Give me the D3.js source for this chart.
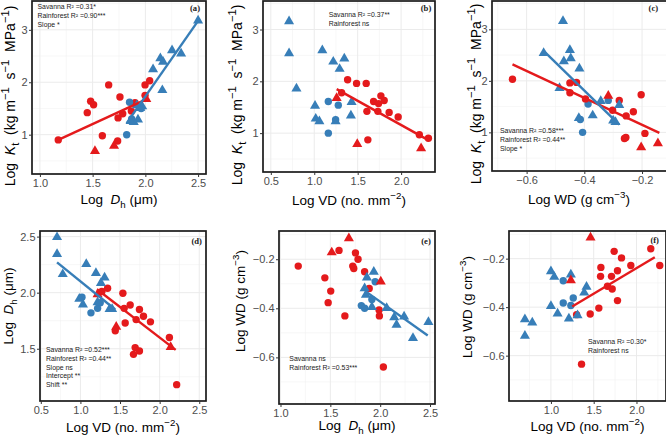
<!DOCTYPE html>
<html><head><meta charset="utf-8">
<script src="https://cdn.jsdelivr.net/npm/d3@7/dist/d3.min.js"></script>
<style>body{margin:0;background:#fff}svg{display:block}</style>
</head><body>
<svg id="chart" width="666" height="436"></svg>
<script>
// ---------- DATA (S = savanna, R = rainforest; c = circle, t = triangle) ----------
const ptsA = [ // x: Log Dh, y: Log Kt
  [1.174,0.90,"S","c"],[1.449,1.42,"S","c"],[1.481,1.64,"S","c"],[1.509,1.57,"S","c"],[1.592,0.98,"S","c"],
  [1.652,1.95,"S","c"],[1.741,1.32,"S","c"],[1.759,1.72,"S","c"],[1.785,1.40,"S","c"],[1.737,0.88,"S","c"],
  [1.867,1.45,"S","c"],[1.902,1.61,"S","c"],[1.997,1.95,"S","c"],[2.041,2.03,"S","c"],[1.997,1.75,"S","c"],
  [1.522,0.70,"S","t"],[1.703,0.80,"S","t"],[2.009,1.69,"S","t"],
  [2.50,3.19,"R","t"],[2.253,2.62,"R","t"],[2.339,2.56,"R","t"],[2.142,2.47,"R","t"],[2.168,2.40,"R","t"],
  [2.073,2.26,"R","t"],[2.161,1.86,"R","t"],[1.86,1.27,"R","t"],[1.89,1.25,"R","t"],[1.93,1.30,"R","t"],
  [1.95,1.52,"R","t"],[1.97,1.55,"R","t"],[1.92,1.57,"R","t"],
  [1.823,1.00,"R","c"],[1.85,1.62,"R","c"],[1.87,1.30,"R","c"],[1.96,1.50,"R","c"]
];
const ptsB = [ // x: Log VD, y: Log Kt
  [0.71,3.17,"R","t"],[0.71,2.55,"R","t"],[0.795,1.87,"R","t"],[1.093,2.61,"R","t"],[1.219,2.39,"R","t"],
  [1.346,2.45,"R","t"],[1.292,2.25,"R","t"],[1.009,1.54,"R","t"],[1.017,1.29,"R","t"],[1.059,1.24,"R","t"],
  [1.246,1.24,"R","t"],[1.43,1.61,"R","t"],[1.422,1.35,"R","t"],
  [1.162,1.61,"R","c"],[1.277,1.54,"R","c"],[1.246,1.26,"R","c"],[1.162,1.00,"R","c"],
  [1.258,1.69,"S","t"],[1.495,0.80,"S","t"],[2.23,0.72,"S","t"],
  [1.384,2.03,"S","c"],[1.487,1.96,"S","c"],[1.598,1.96,"S","c"],[1.315,1.78,"S","c"],[1.606,1.42,"S","c"],
  [1.683,1.61,"S","c"],[1.74,1.57,"S","c"],[1.767,1.72,"S","c"],[1.805,1.63,"S","c"],[1.732,1.42,"S","c"],
  [1.862,1.40,"S","c"],[1.966,1.31,"S","c"],[1.617,0.87,"S","c"],[2.21,0.97,"S","c"],[2.314,0.90,"S","c"]
];
const ptsC = [ // x: Log WD, y: Log Kt
  [-0.474,3.17,"R","t"],[-0.541,2.55,"R","t"],[-0.471,2.39,"R","t"],[-0.450,2.61,"R","t"],[-0.447,2.45,"R","t"],
  [-0.417,2.25,"R","t"],[-0.486,1.87,"R","t"],[-0.419,1.29,"R","t"],[-0.371,1.34,"R","t"],[-0.343,1.62,"R","t"],
  [-0.279,1.54,"R","t"],[-0.300,1.24,"R","t"],[-0.292,1.21,"R","t"],
  [-0.387,1.55,"R","c"],[-0.317,1.62,"R","c"],[-0.406,1.00,"R","c"],[-0.414,1.25,"R","c"],
  [-0.317,1.72,"S","t"],[-0.203,0.72,"S","t"],[-0.145,0.80,"S","t"],
  [-0.649,2.03,"S","c"],[-0.450,1.96,"S","c"],[-0.427,1.97,"S","c"],[-0.450,1.77,"S","c"],[-0.396,1.65,"S","c"],
  [-0.279,1.62,"S","c"],[-0.302,1.43,"S","c"],[-0.255,1.32,"S","c"],[-0.230,1.40,"S","c"],[-0.203,1.73,"S","c"],
  [-0.261,0.88,"S","c"],[-0.256,0.90,"S","c"],[-0.19,0.98,"S","c"]
];
const ptsD = [ // x: Log VD, y: Log Dh
  [0.705,2.50,"R","t"],[0.705,2.35,"R","t"],[0.777,2.17,"R","t"],[1.074,2.26,"R","t"],[1.196,2.18,"R","t"],
  [1.305,2.14,"R","t"],[1.259,2.09,"R","t"],[0.986,1.95,"R","t"],[1.032,1.90,"R","t"],[1.368,1.86,"R","t"],
  [1.40,1.86,"R","t"],[1.217,1.92,"R","t"],
  [1.02,1.96,"R","c"],[1.133,1.82,"R","c"],[1.217,1.86,"R","c"],[1.25,1.91,"R","c"],
  [1.217,1.99,"S","t"],[1.452,1.70,"S","t"],[2.139,1.52,"S","t"],
  [1.271,2.01,"S","c"],[1.343,2.04,"S","c"],[1.536,1.995,"S","c"],[1.552,1.86,"S","c"],[1.628,1.89,"S","c"],
  [1.745,1.85,"S","c"],[1.796,1.79,"S","c"],[1.703,1.76,"S","c"],[1.565,1.73,"S","c"],[1.884,1.74,"S","c"],
  [1.44,1.66,"S","c"],[1.67,1.45,"S","c"],[1.691,1.51,"S","c"],[1.745,1.48,"S","c"],[2.123,1.60,"S","c"],
  [2.215,1.18,"S","c"]
];
const ptsE = [ // x: Log Dh, y: Log WD
  [1.686,-0.112,"S","t"],[1.514,-0.170,"S","t"],[2.006,-0.289,"S","t"],
  [1.178,-0.228,"S","c"],[1.587,-0.164,"S","c"],[1.752,-0.174,"S","c"],[1.778,-0.20,"S","c"],[1.725,-0.228,"S","c"],
  [1.735,-0.238,"S","c"],[1.445,-0.276,"S","c"],[1.504,-0.330,"S","c"],[1.478,-0.377,"S","c"],[1.646,-0.431,"S","c"],
  [1.844,-0.251,"S","c"],[1.89,-0.319,"S","c"],[1.989,-0.407,"S","c"],[1.992,-0.431,"S","c"],[2.032,-0.639,"S","c"],
  [1.867,-0.272,"R","t"],[1.936,-0.249,"R","t"],[1.844,-0.316,"R","t"],[1.857,-0.343,"R","t"],[1.917,-0.393,"R","t"],
  [2.065,-0.397,"R","t"],[2.141,-0.434,"R","t"],[2.164,-0.465,"R","t"],[2.24,-0.431,"R","t"],[2.329,-0.519,"R","t"],
  [2.484,-0.454,"R","t"],
  [1.811,-0.389,"R","c"],[1.844,-0.40,"R","c"],[1.917,-0.364,"R","c"],[1.95,-0.292,"R","c"]
];
const ptsF = [ // x: Log VD, y: Log WD
  [1.0,-0.250,"R","t"],[1.039,-0.273,"R","t"],[1.233,-0.263,"R","t"],[1.0,-0.393,"R","t"],[1.078,-0.424,"R","t"],
  [1.21,-0.445,"R","t"],[1.311,-0.431,"R","t"],[1.416,-0.314,"R","t"],[1.389,-0.338,"R","t"],[0.696,-0.448,"R","t"],
  [0.696,-0.516,"R","t"],[0.782,-0.461,"R","t"],
  [1.144,-0.291,"R","c"],[1.261,-0.362,"R","c"],[1.144,-0.383,"R","c"],[1.233,-0.393,"R","c"],
  [1.463,-0.111,"S","t"],[1.233,-0.287,"S","t"],
  [2.167,-0.159,"S","c"],[2.272,-0.228,"S","c"],[1.739,-0.170,"S","c"],[1.825,-0.197,"S","c"],[1.584,-0.236,"S","c"],
  [1.580,-0.273,"S","c"],[1.708,-0.273,"S","c"],[1.778,-0.250,"S","c"],[1.934,-0.228,"S","c"],[1.661,-0.314,"S","c"],
  [1.716,-0.325,"S","c"],[1.778,-0.373,"S","c"],[1.560,-0.404,"S","c"],[1.459,-0.428,"S","c"],[1.30,-0.431,"S","c"],
  [1.358,-0.635,"S","c"]
];
// fitted regression segments: [group, x1, y1, x2, y2]
const fitA = [["S",1.174,0.90,2.003,1.67],["R",1.823,1.22,2.50,3.17]];
const fitB = [["S",1.258,1.85,2.318,0.86]];
const fitC = [["S",-0.649,2.32,-0.140,0.99],["R",-0.541,2.58,-0.279,1.15]];
const fitD = [["R",0.705,2.27,1.439,1.85],["S",1.209,2.03,2.202,1.49]];
const fitE = [["R",1.851,-0.330,2.477,-0.511]];
const fitF = [["S",1.249,-0.397,2.214,-0.194]];
// statistics text
const statsA = ["Savanna R\u00B2 =0.31*","Rainforest R\u00B2 =0.90***","Slope *"];
const statsB = ["Savanna R\u00B2 =0.37**","Rainforest ns"];
const statsC = ["Savanna R\u00B2 =0.58***","Rainforest R\u00B2 =0.44**","Slope *"];
const statsD = ["Savanna R\u00B2 =0.52***","Rainforest R\u00B2 =0.44**","Slope ns","Intercept **","Shift **"];
const statsE = ["Savanna ns","Rainforest R\u00B2 =0.53***"];
const statsF = ["Savanna R\u00B2 =0.30*","Rainforest ns"];
// ticks
const ticksDhA = [1.0,1.5,2.0,2.5];
const ticksVDB = [0.5,1.0,1.5,2.0];
const ticksWDx = [-0.6,-0.4,-0.2];
const ticksVDD = [0.5,1.0,1.5,2.0,2.5];
const ticksVDF = [1.0,1.5,2.0];
const ticksKt = [1,2,3];
const ticksDhY = [1.5,2.0,2.5];
const ticksWDy = [-0.6,-0.4,-0.2];

// ---------- STYLE / LAYOUT ----------
const colors = {S:"#E41A1C", R:"#377EB8"};
const NB = "\u00A0";
const T = {
  Kt: [["Log"+NB+NB,"n"],["K","i"],["t","sub"],[NB+NB+"(kg"+NB+"m","n"],["\u22121","sup"],[NB+NB+"s","n"],["\u22121","sup"],[NB+NB+"MPa","n"],["\u22121","sup"],[")","n"]],
  Dh: [["Log"+NB+NB,"n"],["D","i"],["h","sub"],[NB+"(\u03BCm)","n"]],
  VD: [["Log VD (no."+NB+"mm","n"],["\u22122","sup"],[")","n"]],
  WD: [["Log WD (g"+NB+"cm","n"],["\u22123","sup"],[")","n"]]
};
const fmt1 = d => d3.format(".1f")(d).replace("-","\u2212");
const fmt0 = d => d3.format("d")(d);

const panels = [
  {lab:"(a)", pts:ptsA, fit:fitA, stats:statsA, box:[32,1,206,174], xd:[0.925,2.575], yd:[0.25,3.55],
   xt:ticksDhA, yt:ticksKt, xf:fmt1, yf:fmt0, xT:T.Dh, yT:T.Kt, xTy:204, yTx:10, yTy:96, sp:[37.5,7], lp:[195,7.5]},
  {lab:"(b)", pts:ptsB, fit:fitB, stats:statsB, box:[263,1,435,172], xd:[0.41,2.39], yd:[0.25,3.55],
   xt:ticksVDB, yt:ticksKt, xf:fmt1, yf:fmt0, xT:T.VD, yT:T.Kt, xTy:205, yTx:237, yTy:95, sp:[328.7,15], lp:[426,8.3]},
  {lab:"(c)", pts:ptsC, fit:fitC, stats:statsC, box:[492,1,668,171], xd:[-0.72,-0.11], yd:[0.25,3.55],
   xt:ticksWDx, yt:ticksKt, xf:fmt1, yf:fmt0, xT:T.WD, yT:T.Kt, xTy:204, yTx:476, yTy:94, sp:[500,130.7], lp:[653.3,8.3]},
  {lab:"(d)", pts:ptsD, fit:fitD, stats:statsD, box:[40,231,206,401], xd:[0.49,2.585], yd:[1.034,2.55],
   xt:ticksVDD, yt:ticksDhY, xf:fmt1, yf:fmt1, xT:T.VD, yT:T.Dh, xTy:432, yTx:8, yTy:306, sp:[46,349.7], lp:[196.7,240.7]},
  {lab:"(e)", pts:ptsE, fit:fitE, stats:statsE, box:[279,231,435,404], xd:[0.985,2.55], yd:[-0.79,-0.085],
   xt:ticksDhA, yt:ticksWDy, xf:fmt1, yf:fmt1, xT:T.Dh, yT:T.WD, xTy:430, yTx:240, yTy:301, sp:[289.3,358.7], lp:[426,240.7]},
  {lab:"(f)", pts:ptsF, fit:fitF, stats:statsF, box:[509,231,666,401], xd:[0.51,2.345], yd:[-0.787,-0.086],
   xt:ticksVDF, yt:ticksWDy, xf:fmt1, yf:fmt1, xT:T.VD, yT:T.WD, xTy:431, yTx:467, yTy:307, sp:[588,342], lp:[654.7,239.7]}
];

const svg = d3.select("#chart");
svg.append("rect").attr("width",666).attr("height",436).attr("fill","#fff");
const FONT = "'Liberation Sans', Arial, Helvetica, sans-serif";

function rich(sel, segs, size, supScale){
  let shift = 0;
  segs.forEach(([t,s])=>{
    const target = s==="sup" ? -0.42*size : s==="sub" ? 0.28*size : 0;
    const ts = sel.append("tspan").attr("dy", target - shift).text(t);
    shift = target;
    if (s==="sup"||s==="sub") ts.attr("font-size", size*supScale);
    if (s==="i") ts.attr("font-style","italic");
  });
}
function minors(ticks, dom){
  const step = ticks[1]-ticks[0];
  const out = [];
  for (let i=-1;i<ticks.length;i++){ const v = ticks[0]+step*(i+0.5); if (v>Math.min(...dom) && v<Math.max(...dom)) out.push(v); }
  return out;
}

panels.forEach((p,i)=>{
  const [L,Tp,R,B] = p.box;
  const x = d3.scaleLinear().domain(p.xd).range([L,R]);
  const y = d3.scaleLinear().domain(p.yd).range([B,Tp]);
  const g = svg.append("g");
  const cid = "clip"+i;
  svg.append("clipPath").attr("id",cid).append("rect").attr("x",L).attr("y",Tp).attr("width",R-L).attr("height",B-Tp);
  const pg = g.append("g").attr("clip-path",`url(#${cid})`);
  // grid
  pg.selectAll(".mx").data(minors(p.xt,p.xd)).join("line").attr("x1",d=>x(d)).attr("x2",d=>x(d)).attr("y1",Tp).attr("y2",B).attr("stroke","#F2F2F2").attr("stroke-width",0.6);
  pg.selectAll(".my").data(minors(p.yt,p.yd)).join("line").attr("y1",d=>y(d)).attr("y2",d=>y(d)).attr("x1",L).attr("x2",R).attr("stroke","#F2F2F2").attr("stroke-width",0.6);
  pg.selectAll(".gx").data(p.xt).join("line").attr("x1",d=>x(d)).attr("x2",d=>x(d)).attr("y1",Tp).attr("y2",B).attr("stroke","#EBEBEB").attr("stroke-width",1);
  pg.selectAll(".gy").data(p.yt).join("line").attr("y1",d=>y(d)).attr("y2",d=>y(d)).attr("x1",L).attr("x2",R).attr("stroke","#EBEBEB").attr("stroke-width",1);
  // points
  const tri = d3.symbol().type(d3.symbolTriangle).size(44)();
  pg.selectAll(".c").data(p.pts.filter(d=>d[3]==="c")).join("circle")
    .attr("cx",d=>x(d[0])).attr("cy",d=>y(d[1])).attr("r",3.7).attr("fill",d=>colors[d[2]]);
  pg.selectAll(".t").data(p.pts.filter(d=>d[3]==="t")).join("path")
    .attr("d",tri).attr("transform",d=>`translate(${x(d[0])},${y(d[1])+0.6})`).attr("fill",d=>colors[d[2]]);
  // fits
  pg.selectAll(".f").data(p.fit).join("line")
    .attr("x1",d=>x(d[1])).attr("y1",d=>y(d[2])).attr("x2",d=>x(d[3])).attr("y2",d=>y(d[4]))
    .attr("stroke",d=>colors[d[0]]).attr("stroke-width",2.4).attr("stroke-linecap","butt");
  // stats
  g.append("g").selectAll("text").data(p.stats).join("text")
    .attr("x",p.sp[0]).attr("y",(d,k)=>p.sp[1]+k*8.7).attr("dy","0.35em")
    .attr("font-family",FONT).attr("font-size",6.9).attr("fill","#1a1a1a").text(d=>d);
  g.append("text").attr("x",p.lp[0]).attr("y",p.lp[1]).attr("dy","0.35em").attr("text-anchor","middle")
    .attr("font-family","'Liberation Serif', 'Times New Roman', serif").attr("font-weight","bold").attr("font-size",8.6).attr("fill","#1a1a1a").text(p.lab);
  // border
  g.append("rect").attr("x",L).attr("y",Tp).attr("width",R-L).attr("height",B-Tp).attr("fill","none").attr("stroke","#1a1a1a").attr("stroke-width",1.7);
  // axes
  const ax = g.append("g").attr("transform",`translate(0,${B})`).call(d3.axisBottom(x).tickValues(p.xt).tickFormat(p.xf).tickSize(3).tickPadding(2.5));
  const ay = g.append("g").attr("transform",`translate(${L},0)`).call(d3.axisLeft(y).tickValues(p.yt).tickFormat(p.yf).tickSize(3).tickPadding(1.5));
  [ax,ay].forEach(a=>{
    a.select(".domain").remove();
    a.selectAll("line").attr("stroke","#333").attr("stroke-width",1);
    a.selectAll("text").attr("font-family",FONT).attr("font-size",11).attr("fill","#4D4D4D");
  });
  // titles
  const xt = g.append("text").attr("x",(L+Math.min(R,666))/2).attr("y",p.xTy).attr("text-anchor","middle")
    .attr("font-family",FONT).attr("font-size",13.5).attr("fill","#000");
  rich(xt, p.xT, 13.5, 0.72);
  const ysz = p.yT===T.Kt ? 14 : 13.5;
  const yt = g.append("text").attr("transform",`translate(${p.yTx+5},${p.yTy}) rotate(-90)`).attr("text-anchor","middle")
    .attr("font-family",FONT).attr("font-size",ysz).attr("fill","#000");
  rich(yt, p.yT, ysz, p.yT===T.Kt ? 0.8 : 0.72);
});
</script>
</body></html>
